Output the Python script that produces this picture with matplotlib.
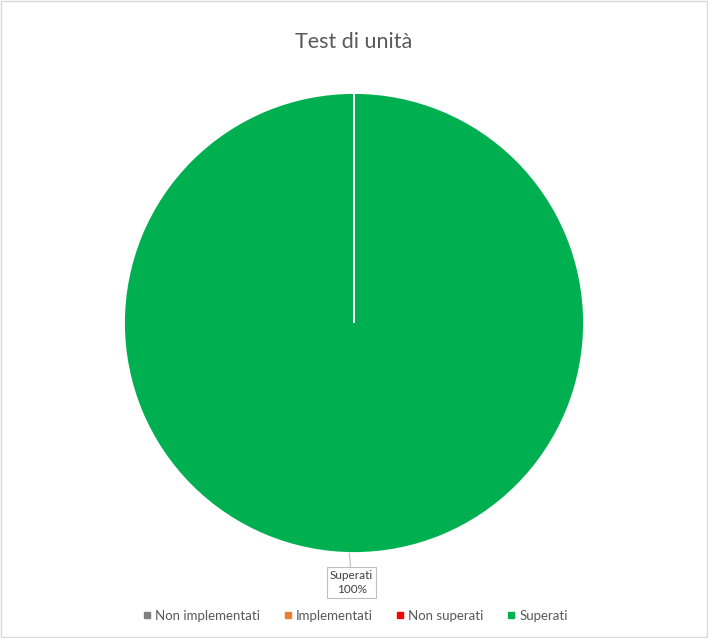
import matplotlib.pyplot as plt
from matplotlib.patches import Rectangle

# dati del grafico
categorie = ["Non implementati", "Implementati", "Non superati", "Superati"]
valori = [0, 0, 0, 100]
colori = ["#7F7F7F", "#ED7D31", "#FF0000", "#00B050"]
etichetta_testo = "Superati\n100%"

plt.rcParams['font.family'] = ['Lato', 'DejaVu Sans']

fig = plt.figure(figsize=(7.08, 6.38), dpi=100)
fig.patch.set_facecolor("white")
fig.patches.append(Rectangle((0.001, 0.001), 0.997, 0.997, transform=fig.transFigure,
                             fill=False, edgecolor="#D9D9D9", linewidth=1))

# pie: centro (354, 323), raggio 230 px
r = 230
cx, cy = 354, 638 - 323
ax = fig.add_axes([(cx - r) / 708, (cy - r) / 638, 2 * r / 708, 2 * r / 638])
wedges, _ = ax.pie(valori, colors=colori, startangle=90, counterclock=False,
                   wedgeprops=dict(edgecolor="white", linewidth=1.3))
# le fette vuote disegnano la linea bianca sopra la fetta piena
for w, v in zip(wedges, valori):
    if v == 0:
        w.set_zorder(5)
ax.set_xlim(-1, 1)
ax.set_ylim(-1, 1)
ax.set_aspect("auto")

fig.text(0.5, 1 - 42 / 638, "Test di unità", ha="center", va="center",
         fontsize=15.5, color="#595959")

# etichetta dati con richiamo
ax.annotate(etichetta_testo, xy=(-0.02, -1.0), xytext=(-0.01, -1.13),
            ha="center", va="center", fontsize=8.5, color="#404040",
            linespacing=1.35,
            bbox=dict(boxstyle="square,pad=0.25", fc="white", ec="#BFBFBF", lw=0.8),
            arrowprops=dict(arrowstyle="-", color="#BFBFBF", lw=0.8,
                            shrinkA=0, shrinkB=0),
            annotation_clip=False)

handles = [plt.Line2D([], [], marker="s", linestyle="", markersize=5,
                      color=c) for c in colori]
fig.legend(handles, categorie, loc="center", bbox_to_anchor=(0.5, 1 - 616 / 638),
           ncol=4, frameon=False, fontsize=9.5, labelcolor="#595959",
           handletextpad=0.1, columnspacing=1.6, handlelength=1.0)

fig.savefig("out.png", dpi=100)
